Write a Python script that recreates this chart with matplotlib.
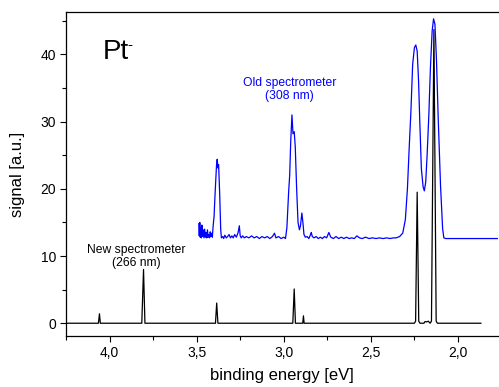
import numpy as np
import matplotlib
matplotlib.use("Agg")
import matplotlib.pyplot as plt
from matplotlib.ticker import MultipleLocator, FuncFormatter

# New spectrometer (266 nm): binding energy [eV], signal [a.u.]
new_E = [4.250, 4.064, 4.058, 4.053, 3.815, 3.805, 3.797,
         3.392, 3.385, 3.378, 2.948, 2.940, 2.933, 2.891, 2.887, 2.883,
         2.250, 2.243, 2.234, 2.225, 2.218, 2.195, 2.189, 2.180, 2.170, 2.160,
         2.152, 2.138, 2.125, 2.118, 1.868]
new_S = [0.0, 0.0, 1.4, 0.0, 0.0, 8.0, 0.0,
         0.0, 3.0, 0.0, 0.0, 5.1, 0.0, 0.0, 1.1, 0.0,
         0.0, 0.3, 19.5, 0.3, 0.0, 0.0, 0.25, 0.2, 0.3, 0.0,
         0.3, 43.7, 0.3, 0.0, 0.0]

# Old spectrometer (308 nm)
old_E = [3.488, 3.485, 3.482, 3.479, 3.476, 3.473, 3.470, 3.466, 3.462, 3.458,
         3.454, 3.450, 3.446, 3.442, 3.438, 3.434, 3.430, 3.426, 3.422, 3.418,
         3.414, 3.410, 3.405, 3.400, 3.394, 3.386, 3.382, 3.378, 3.374, 3.368,
         3.362, 3.358, 3.350, 3.345, 3.338, 3.330, 3.322, 3.314, 3.306, 3.298,
         3.290, 3.282, 3.272, 3.262, 3.255, 3.250, 3.244, 3.236, 3.226, 3.215,
         3.200, 3.185, 3.170, 3.155, 3.140, 3.125, 3.110, 3.095, 3.080, 3.065,
         3.053, 3.045, 3.030, 3.015, 3.000, 2.990, 2.982, 2.972, 2.966, 2.960,
         2.953, 2.947, 2.940, 2.934, 2.926, 2.918, 2.910, 2.904, 2.896, 2.890,
         2.884, 2.876, 2.866, 2.856, 2.846, 2.842, 2.836, 2.826, 2.814, 2.802,
         2.790, 2.778, 2.766, 2.754, 2.741, 2.730, 2.715, 2.700, 2.685, 2.670,
         2.655, 2.640, 2.625, 2.610, 2.595, 2.580, 2.565, 2.550, 2.530, 2.510,
         2.490, 2.470, 2.450, 2.430, 2.410, 2.390, 2.370, 2.355, 2.335, 2.317,
         2.302, 2.290, 2.280, 2.270, 2.260, 2.250, 2.242, 2.234, 2.226, 2.219,
         2.210, 2.200, 2.193, 2.185, 2.177, 2.167, 2.158, 2.148, 2.140, 2.132,
         2.123, 2.113, 2.100, 2.088, 2.081, 2.070, 1.770]
old_S = [14.8, 13.0, 15.0, 12.8, 14.2, 12.7, 14.6, 12.9, 13.9, 12.7,
         14.0, 12.8, 13.5, 12.7, 13.9, 12.8, 13.2, 12.7, 13.6, 12.9,
         13.4, 12.8, 14.6, 15.9, 19.4, 23.5, 24.4, 23.1, 23.6, 19.4,
         14.0, 12.7, 12.9, 12.6, 13.1, 12.7, 12.9, 13.2, 12.7, 13.0,
         12.7, 13.2, 12.8, 13.5, 14.5, 13.0, 12.7, 13.0, 12.7, 12.9,
         12.7, 13.0, 12.7, 12.9, 12.6, 12.9, 12.7, 12.9, 12.6, 12.9,
         13.4, 12.7, 12.9, 12.6, 12.8, 12.6, 14.2, 19.5, 22.0, 27.0,
         31.0, 28.2, 28.5, 26.3, 20.0, 15.0, 13.9, 14.5, 16.4, 15.0,
         13.2, 12.8, 12.9, 12.6, 13.2, 13.5, 12.9, 12.7, 12.9, 12.6,
         12.8, 12.6, 12.9, 12.7, 13.5, 12.8, 12.6, 12.9, 12.6, 12.8,
         12.6, 12.8, 12.6, 12.7, 12.6, 13.0, 12.7, 12.6, 12.8, 12.6,
         12.7, 12.6, 12.7, 12.6, 12.7, 12.6, 12.7, 12.7, 12.9, 13.4,
         15.4, 20.0, 26.0, 31.5, 38.5, 41.0, 41.4, 40.5, 36.0, 30.0,
         23.0, 20.3, 19.7, 21.0, 25.0, 31.0, 38.0, 43.5, 45.3, 44.5,
         39.0, 30.3, 20.5, 14.1, 12.7, 12.6, 12.6]

plt.rcParams['font.family'] = ['Liberation Sans', 'DejaVu Sans']

fig = plt.figure(figsize=(4.99, 3.87), dpi=100)
ax = fig.add_axes([0.1323, 0.1318, 0.8657, 0.837])

ax.plot(new_E, new_S, color="black", lw=0.9)
ax.plot(old_E, old_S, color="#0000FF", lw=0.9)

ax.set_xlim(4.25, 1.77)
ax.set_ylim(-1.9, 46.3)

ax.xaxis.set_major_locator(MultipleLocator(0.5))
ax.xaxis.set_minor_locator(MultipleLocator(0.25))
ax.yaxis.set_major_locator(MultipleLocator(10))
ax.yaxis.set_minor_locator(MultipleLocator(5))
ax.xaxis.set_major_formatter(FuncFormatter(lambda v, p: ("%.1f" % v).replace(".", ",")))

ax.tick_params(which="major", direction="out", length=4.3, width=0.8, labelsize=10, pad=3)
ax.tick_params(which="minor", direction="out", length=3.0, width=0.8)
ax.tick_params(top=False, right=False)
ax.spines["right"].set_visible(False)
for s in ["left", "bottom", "top"]:
    ax.spines[s].set_linewidth(0.9)

ax.set_xlabel("binding energy [eV]", fontsize=12, labelpad=6)
ax.set_ylabel("signal [a.u.]", fontsize=12, labelpad=11)

# ion label with a small raised minus
ax.text(0.085, 0.855, "Pt", transform=ax.transAxes, fontsize=20)
ax.text(0.143, 0.887, "-", transform=ax.transAxes, fontsize=11)

ax.text(3.845, 9.95, "New spectrometer\n(266 nm)", ha="center", va="center",
        fontsize=8.7, linespacing=1.05)
ax.text(2.967, 34.8, "Old spectrometer\n(308 nm)", ha="center", va="center",
        fontsize=8.7, linespacing=1.05, color="#0000FF")

plt.savefig("out.png", dpi=100)
